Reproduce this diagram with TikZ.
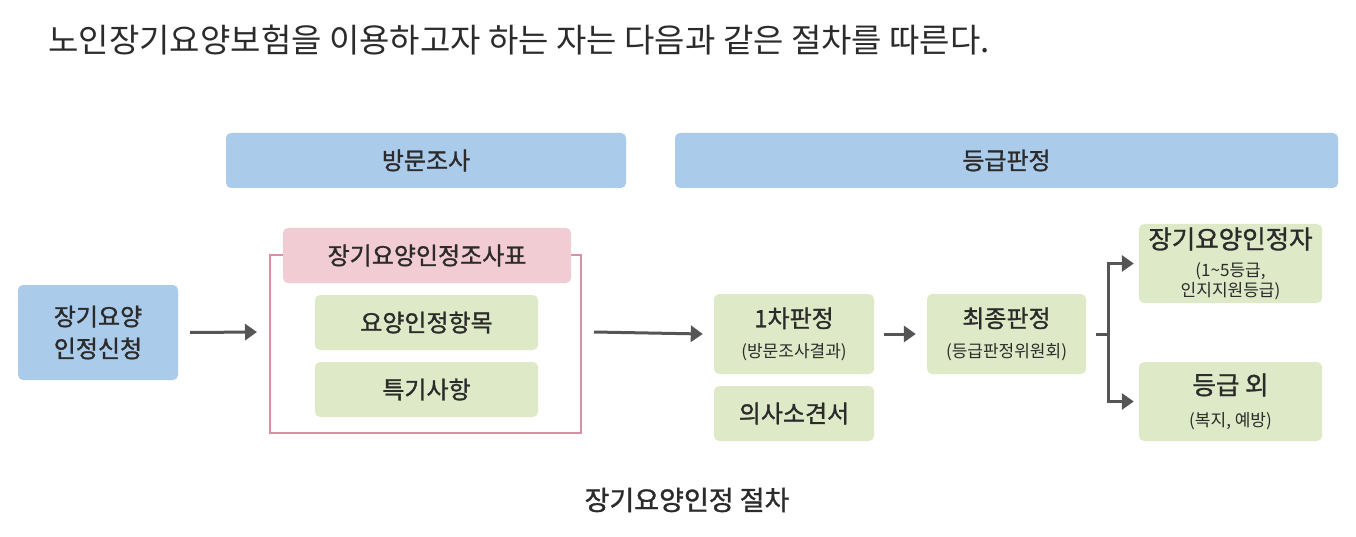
\documentclass[tikz,border=0pt]{standalone}
\usepackage{fontspec}
\setmainfont{Noto Sans CJK KR}
\newfontfamily\medfont{Noto Sans CJK KR}[FakeBold=1.2]
\usetikzlibrary{arrows.meta}
\definecolor{hdrblue}{HTML}{ABCBEA}
\definecolor{boxgreen}{HTML}{DEEAC7}
\definecolor{boxpink}{HTML}{F1CCD3}
\definecolor{framepink}{HTML}{D990A5}
\definecolor{arrowgray}{HTML}{555555}
\definecolor{txt}{HTML}{2B2B2B}
\newcommand\subtxt{\normalfont\fontsize{17}{20}\selectfont}
\begin{document}
\begin{tikzpicture}[x=1pt,y=-1pt,
  box/.style={rounded corners=5pt, inner sep=0pt, text=txt, align=center, font=\medfont\fontsize{24}{28}\selectfont},
  bigbox/.style={box, font=\medfont\fontsize{25.5}{30}\selectfont},
  bluebox/.style={box, fill=hdrblue},
  greenbox/.style={box, fill=boxgreen},
  pinkbox/.style={box, fill=boxpink},
  conn/.style={draw=arrowgray, line width=3pt, -{Triangle[length=12pt,width=16pt]}}
]
\useasboundingbox (0,0) rectangle (1356,537);
\node[anchor=west, text=txt, font=\fontsize{33}{38}\selectfont] (title) at (45,40) {노인장기요양보험을 이용하고자 하는 자는 다음과 같은 절차를 따른다.};
% header bars
\node[bluebox, minimum width=400pt, minimum height=55pt] (visit) at (426,160.5) {방문조사};
\node[bluebox, minimum width=663pt, minimum height=55pt] (grade) at (1006.5,160.5) {등급판정};
% application
\node[bluebox, minimum width=160pt, minimum height=95pt, font=\medfont\fontsize{24}{32}\selectfont] (apply) at (98,332.5) {장기요양\\인정신청};
% pink frame
\draw[framepink, line width=2pt] (270,255) rectangle (581,433);
\coordinate (frameL) at (270,332);
\coordinate (frameR) at (581,332);
\node[pinkbox, minimum width=288pt, minimum height=55pt] (survey) at (427,255.5) {장기요양인정조사표};
\node[greenbox, minimum width=223pt, minimum height=55pt] (items) at (426.5,322.5) {요양인정항목};
\node[greenbox, minimum width=223pt, minimum height=55pt] (special) at (426.5,389.5) {특기사항};
% judgment
\node[greenbox, minimum width=160pt, minimum height=80pt] (first) at (794,334) {1차판정\\[2pt]{\subtxt (방문조사결과)}};
\node[greenbox, minimum width=160pt, minimum height=55pt] (doctor) at (794,413.5) {의사소견서};
\node[greenbox, minimum width=159pt, minimum height=80pt] (final) at (1006.5,334) {최종판정\\[2pt]{\subtxt (등급판정위원회)}};
\node[greenbox, bigbox, minimum width=183pt, minimum height=79pt] (recog) at (1230.5,263.5) {};
\node[txt, font=\medfont\fontsize{25.5}{30}\selectfont] (recogmain) at (1230.5,239) {장기요양인정자};
\node[txt, align=center, font=\subtxt] (recogsub) at (1230.5,281) {(1\textasciitilde5등급,\\인지지원등급)};
\node[greenbox, bigbox, minimum width=183pt, minimum height=79pt] (outside) at (1230.5,401.5) {등급 외\\[2pt]{\subtxt (복지, 예방)}};
% caption
\node[text=txt, font=\medfont\fontsize{27}{32}\selectfont] (caption) at (687,500) {장기요양인정 절차};
% connectors
\draw[conn] ([xshift=12pt]apply.east) -- ([xshift=-13pt]frameL);
\draw[conn] ([xshift=13pt]frameR) -- ([xshift=-11pt]first.west);
\draw[conn] ([xshift=10pt]first.east) -- ([xshift=-11pt]final.west);
\coordinate (split) at (1108,334);
\draw[arrowgray, line width=3pt] ([xshift=10pt]final.east) -- (split);
\draw[conn] (split) |- ([xshift=-5pt]recog.west);
\draw[conn] (split) |- ([xshift=-5pt]outside.west);
\end{tikzpicture}
\end{document}
